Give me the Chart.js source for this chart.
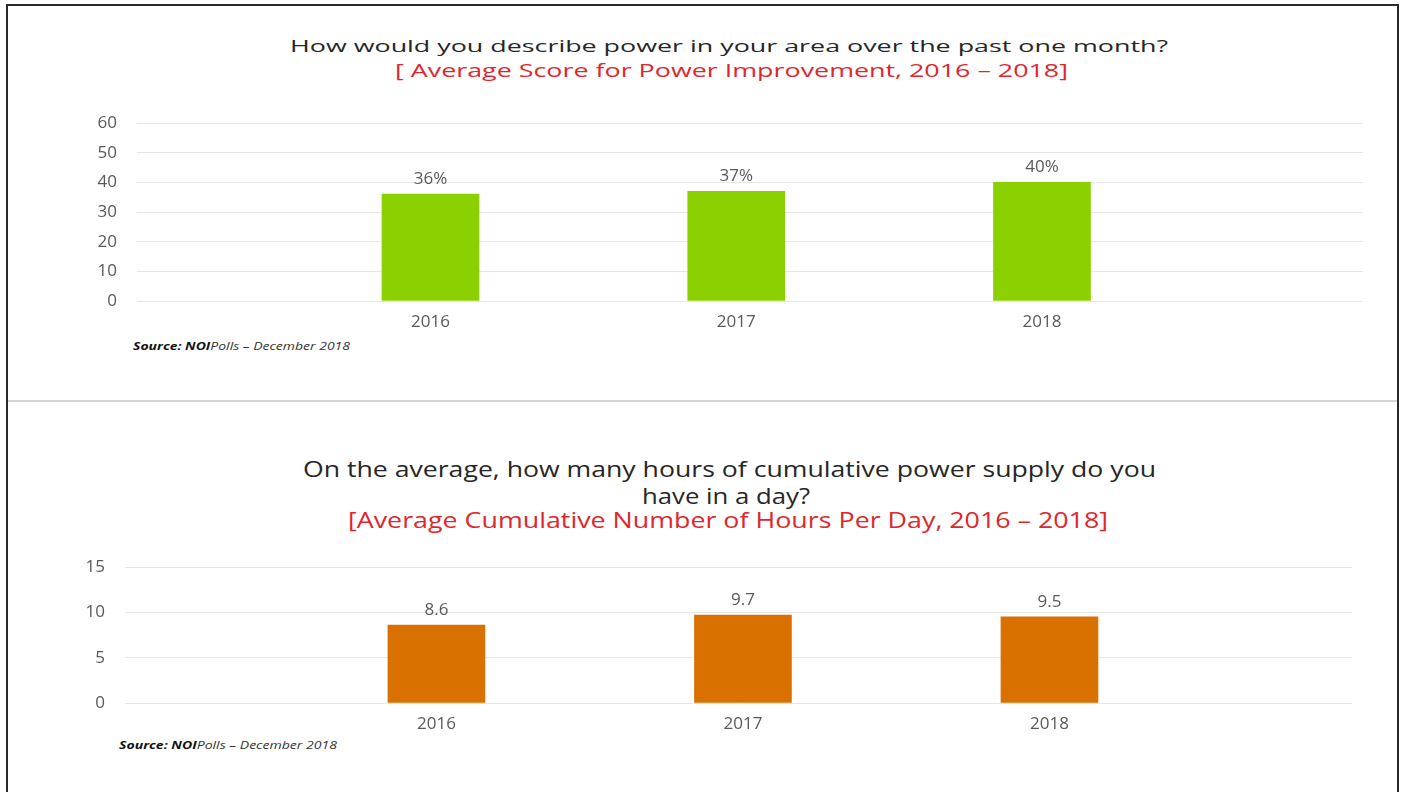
<!DOCTYPE html>
<html>
<head>
<meta charset="utf-8">
<script src="https://cdn.jsdelivr.net/npm/chart.js@4.4.1/dist/chart.umd.min.js"></script>
<style>
html,body{margin:0;padding:0;background:#fff;width:1403px;height:792px;overflow:hidden;font-family:'Open Sans',sans-serif;}
.frame{position:absolute;left:6px;top:4px;width:1393px;height:820px;border:2px solid #2a2a2a;border-bottom:none;box-sizing:border-box;}
.sep{position:absolute;left:8px;top:400px;width:1389px;height:2px;background:#d4d4d4;}
.t{position:absolute;white-space:nowrap;line-height:1;transform-origin:0 50%;}
.dark{color:#262626;}
.red{color:#e0262d;}
.src{color:#333;font-style:italic;}
.src b{color:#111;}
canvas{position:absolute;left:0;}
</style>
</head>
<body>
<div class="frame"></div>
<div class="sep"></div>

<div class="t dark" style="left:290px;top:37px;font-size:17px" data-w="878">How would you describe power in your area over the past one month?</div>
<div class="t red" style="left:395px;top:61px;font-size:18px" data-w="673">[ Average Score for Power Improvement, 2016 – 2018]</div>
<div class="t src" style="left:133px;top:340px;font-size:11px" data-w="217"><b>Source: NOI</b>Polls – December 2018</div>

<div class="t dark" style="left:303px;top:459px;font-size:21px" data-w="853">On the average, how many hours of cumulative power supply do you</div>
<div class="t dark" style="left:642px;top:486px;font-size:21px" data-w="168">have in a day?</div>
<div class="t red" style="left:348px;top:510px;font-size:21px" data-w="760">[Average Cumulative Number of Hours Per Day, 2016 – 2018]</div>
<div class="t src" style="left:119px;top:739px;font-size:11px" data-w="218"><b>Source: NOI</b>Polls – December 2018</div>

<canvas id="c1" width="1403" height="240" style="top:100px"></canvas>
<canvas id="c2" width="1403" height="200" style="top:540px"></canvas>

<script>
// ---- data ----
const years = [2016, 2017, 2018];
const yearLabels = ['2016', '2017', '2018'];
const powerScore = [36, 37, 40];
const powerHours = [8.6, 9.7, 9.5];
const scoreTicks = [0, 10, 20, 30, 40, 50, 60];
const hoursTicks = [0, 5, 10, 15];

function fitTexts() {
  document.querySelectorAll('.t').forEach(el => {
    el.style.transform = 'none';
    const w = el.getBoundingClientRect().width;
    el.style.transform = 'scaleX(' + (parseFloat(el.dataset.w) / w) + ')';
  });
}
fitTexts();
if (document.fonts && document.fonts.ready) document.fonts.ready.then(fitTexts);

const valueLabels = {
  id: 'valueLabels',
  afterDatasetsDraw(chart, args, opts) {
    const ctx = chart.ctx;
    chart.data.datasets.forEach((ds, di) => {
      const meta = chart.getDatasetMeta(di);
      meta.data.forEach((el, i) => {
        ctx.save();
        ctx.font = '17px "Open Sans"';
        ctx.fillStyle = '#595959';
        ctx.textAlign = 'center';
        ctx.textBaseline = 'alphabetic';
        ctx.fillText(ds.data[i].y.toFixed(opts.decimals) + opts.suffix, el.x, el.y - 10);
        ctx.restore();
      });
    });
  }
};

Chart.defaults.font.family = "'Open Sans', sans-serif";
Chart.defaults.color = '#595959';

function makeChart(id, values, tickVals, color, cfg) {
  const chart = new Chart(document.getElementById(id), {
    type: 'bar',
    data: {
      datasets: [{
        data: years.map((y, i) => ({ x: y, y: values[i] })),
        backgroundColor: color,
        borderWidth: 0,
        barThickness: 97
      }]
    },
    plugins: [valueLabels],
    options: {
      responsive: false,
      animation: false,
      layout: { padding: { left: 0, right: cfg.padRight, top: cfg.padTop, bottom: 0 } },
      plugins: {
        legend: { display: false },
        tooltip: { enabled: false },
        valueLabels: { decimals: cfg.decimals, suffix: cfg.suffix }
      },
      scales: {
        x: {
          type: 'linear',
          offset: false,
          min: cfg.xMin,
          max: cfg.xMax,
          grid: { display: false, offset: false },
          border: { display: false },
          afterBuildTicks: s => { s.ticks = years.map(v => ({ value: v })); },
          afterFit: s => { s.height = cfg.xAxisH; },
          ticks: {
            padding: cfg.xPad,
            color: '#595959',
            font: { size: 17 },
            callback: v => { const k = years.indexOf(v); return k >= 0 ? yearLabels[k] : ''; }
          }
        },
        y: {
          min: tickVals[0],
          max: tickVals[tickVals.length - 1],
          afterBuildTicks: s => { s.ticks = tickVals.map(v => ({ value: v })); },
          afterFit: s => { s.width = cfg.leftW; },
          grid: { color: '#e6e6e6', lineWidth: 1, drawTicks: true, tickLength: 20, tickColor: 'rgba(0,0,0,0)' },
          border: { display: false },
          ticks: { padding: 0, color: '#595959', font: { size: 17 } }
        }
      }
    }
  });
  for (let k = 0; k < 3; k++) {
    const ca = chart.chartArea;
    const dt = cfg.target.top - ca.top;
    const db = ca.bottom - cfg.target.bottom;
    const dl = cfg.target.left - ca.left;
    const dr = ca.right - cfg.target.right;
    if (Math.abs(dt) < 0.5 && Math.abs(db) < 0.5 && Math.abs(dl) < 0.5 && Math.abs(dr) < 0.5) break;
    chart.options.layout.padding.top += dt;
    cfg.xAxisH += db;
    cfg.leftW += dl;
    chart.options.layout.padding.right += dr;
    chart.update();
  }
  return chart;
}

makeChart('c1', powerScore, scoreTicks, '#8bd000', {
  xMin: 2015.04, xMax: 2019.05, leftW: 137, padRight: 40, padTop: 23, xAxisH: 39, xPad: 3,
  decimals: 0, suffix: '%',
  target: { left: 137, top: 23, right: 1363, bottom: 201 }
});
makeChart('c2', powerHours, hoursTicks, '#d97100', {
  xMin: 2014.984, xMax: 2018.987, leftW: 125, padRight: 51, padTop: 27, xAxisH: 37, xPad: 3,
  decimals: 1, suffix: '',
  target: { left: 125, top: 27, right: 1352, bottom: 163 }
});
</script>
</body>
</html>
